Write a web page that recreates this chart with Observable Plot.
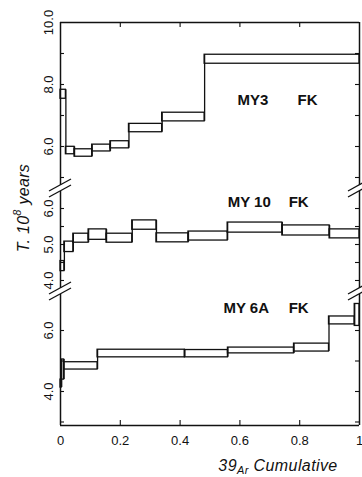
<!DOCTYPE html>
<html>
<head>
<meta charset="utf-8">
<script src="https://cdn.jsdelivr.net/npm/d3@7"></script>
<script src="https://cdn.jsdelivr.net/npm/@observablehq/plot@0.6"></script>
<style>
  html, body { margin: 0; padding: 0; background: #fff; }
  #chart { position: relative; width: 362px; height: 477px; overflow: hidden; background: #fff;
           font-family: "Liberation Sans", Arial, Helvetica, sans-serif; color: #111; }
  #chart svg { position: absolute; left: 0; }
  .ytitle { position: absolute; left: 21px; top: 208px; transform: translate(-50%, -50%) rotate(-90deg);
            white-space: nowrap; font-style: italic; font-size: 16px; line-height: 16px; letter-spacing: 0.3px; }
  .ytitle sup { font-size: 11px; position: relative; top: -1px; }
  .xtitle { position: absolute; left: 278px; top: 458px; transform: translateX(-50%);
            white-space: nowrap; font-style: italic; font-size: 16px; line-height: 16px; letter-spacing: 0.4px; }
  .xtitle sub { font-size: 11px; vertical-align: baseline; position: relative; top: 3px; }
</style>
</head>
<body>
<div id="chart">
  <div class="ytitle">T. 10<sup>8</sup> years</div>
  <div class="xtitle">39<sub>Ar</sub> Cumulative</div>
</div>
<script>
// ---------- data ----------
const xTicks = [0, 0.2, 0.4, 0.6, 0.8, 1];
const xTickLabels = ["0", "0.2", "0.4", "0.6", "0.8", "1"];
const xInnerTicks = [0.2, 0.4, 0.6, 0.8];

// MY3 FK  (cumulative 39Ar step edges, lower / upper age in 10^8 years)
const my3Edges = [0, 0.018, 0.047, 0.106, 0.167, 0.229, 0.340, 0.482, 1];
const my3Low   = [7.54, 5.75, 5.67, 5.84, 5.94, 6.46, 6.81, 8.67];
const my3High  = [7.83, 5.99, 5.91, 6.06, 6.17, 6.73, 7.09, 8.96];

// MY 10 FK
const my10Edges = [0, 0.013, 0.043, 0.094, 0.154, 0.240, 0.321, 0.428, 0.559, 0.742, 0.900, 1];
const my10Low   = [4.26, 4.79, 5.05, 5.13, 5.05, 5.41, 5.06, 5.11, 5.33, 5.25, 5.17];
const my10High  = [4.54, 5.08, 5.30, 5.42, 5.30, 5.67, 5.31, 5.36, 5.61, 5.53, 5.42];

// MY 6A FK
const my6aEdges = [0, 0.004, 0.012, 0.124, 0.416, 0.560, 0.781, 0.898, 0.984, 1];
const my6aLow   = [4.13, 4.39, 4.72, 5.12, 5.12, 5.25, 5.31, 6.20, 6.15];
const my6aHigh  = [4.39, 5.05, 4.96, 5.37, 5.36, 5.44, 5.57, 6.46, 6.87];

// panel names and y tick labels
const panelNames = ["MY3", "MY 10", "MY 6A"];
const panelSuffix = "FK";
const my3TickLabels = [10, 8, 6];
const my10TickLabels = [6, 5, 4];
const my6aTickLabels = [6, 4];
const my3Ticks = [9, 8, 7, 6, 5];
const my10Ticks = [6, 5.5, 5, 4.5, 4];
const my6aTicks = [6, 5, 4, 3];

// ---------- layout ----------
const W = 362, ML = 60, MR = 3, frameW = W - ML - MR;
const ink = "#111";
const gap = 3;
const font = "Liberation Sans, Arial, Helvetica, sans-serif";

const panels = [
  {name: panelNames[0], edges: my3Edges, low: my3Low, high: my3High,
   labelTicks: my3TickLabels, ticks: my3Ticks,
   top: 0, height: 188, marginTop: 22, marginBottom: 0, domain: [4.645, 10],
   nameX: 0.592, suffixX: 0.793, labelY: 7.48, first: true},
  {name: panelNames[1], edges: my10Edges, low: my10Low, high: my10High,
   labelTicks: my10TickLabels, ticks: my10Ticks,
   top: 188, height: 103, marginTop: 0, marginBottom: 0, domain: [3.694, 6.556],
   nameX: 0.559, suffixX: 0.763, labelY: 6.17},
  {name: panelNames[2], edges: my6aEdges, low: my6aLow, high: my6aHigh,
   labelTicks: my6aTickLabels, ticks: my6aTicks,
   top: 291, height: 186, marginTop: 0, marginBottom: 52, domain: [2.885, 7.279],
   nameX: 0.545, suffixX: 0.763, labelY: 6.72, last: true}
];

const chart = document.getElementById("chart");
const built = [];

for (const p of panels) {
  const steps = p.low.map((lo, i) => ({x1: p.edges[i], x2: p.edges[i + 1], lo, hi: p.high[i]}));
  const joins = steps.slice(1).map((s, i) => ({
    x: s.x1,
    y1: Math.min(s.lo, steps[i].lo),
    y2: Math.max(s.hi, steps[i].hi)
  }));
  const frameH = p.height - p.marginTop - p.marginBottom;
  const labels = [
    {x: p.nameX, y: p.labelY, text: p.name},
    {x: p.suffixX, y: p.labelY, text: panelSuffix}
  ];
  const marks = [
    Plot.ruleX([0, 1], {stroke: ink, strokeWidth: 1.5,
      insetTop: p.first ? 0 : gap, insetBottom: p.last ? 0 : gap}),
    Plot.tickY(p.ticks, {stroke: ink, strokeWidth: 1.1, insetRight: frameW - 4}),
    Plot.tickY(p.ticks, {stroke: ink, strokeWidth: 1.1, insetLeft: frameW - 4}),
    Plot.axisY(p.labelTicks, {tickSize: 0, tickPadding: 12, tickRotate: -90,
      textAnchor: "middle", lineAnchor: "middle", fontSize: 13, fill: ink,
      tickFormat: d => d.toFixed(1), label: null}),
    Plot.rect(steps, {x1: "x1", x2: "x2", y1: "lo", y2: "hi", fill: "none",
      stroke: ink, strokeWidth: 1.3}),
    Plot.ruleX(joins, {x: "x", y1: "y1", y2: "y2", stroke: ink, strokeWidth: 1.3}),
    Plot.text(labels, {x: "x", y: "y", text: "text", textAnchor: "start",
      fontWeight: "bold", fontSize: 15, fill: ink})
  ];
  if (p.first) {
    marks.push(Plot.ruleY([p.domain[1]], {stroke: ink, strokeWidth: 1.5}));
    marks.push(Plot.tickX(xInnerTicks, {stroke: ink, strokeWidth: 1.1, insetBottom: frameH - 5}));
  }
  if (p.last) {
    marks.push(Plot.ruleY([p.domain[0]], {stroke: ink, strokeWidth: 1.5}));
    marks.push(Plot.tickX(xInnerTicks, {stroke: ink, strokeWidth: 1.1, insetTop: frameH - 5}));
    marks.push(Plot.axisX(xTicks, {tickSize: 0, tickPadding: 10, fontSize: 13, fill: ink,
      tickFormat: d => xTickLabels[xTicks.indexOf(d)], label: null}));
  }
  const svg = Plot.plot({
    width: W, height: p.height,
    marginLeft: ML, marginRight: MR, marginTop: p.marginTop, marginBottom: p.marginBottom,
    x: {domain: [0, 1], axis: p.last ? undefined : null},
    y: {domain: p.domain, label: null},
    style: {fontFamily: font, background: "transparent", overflow: "visible"},
    marks
  });
  svg.style.top = p.top + "px";
  chart.appendChild(svg);
  built.push({p, svg});
}

// axis-break marks ("//") on both side axes between panels, positioned through the plots' scales
const xs = built[0].svg.scale("x");
const overlay = d3.select(chart).append("svg")
  .attr("width", W).attr("height", 477)
  .style("top", "0px").style("pointer-events", "none");
for (let k = 0; k < built.length - 1; k++) {
  const {p, svg} = built[k];
  const yb = p.top + svg.scale("y").apply(p.domain[0]);
  for (const xv of [0, 1]) {
    const xc = xs.apply(xv);
    for (const off of [-gap, gap]) {
      overlay.append("line")
        .attr("x1", xc - 11).attr("y1", yb + off + 6)
        .attr("x2", xc + 11).attr("y2", yb + off - 6)
        .attr("stroke", ink).attr("stroke-width", 1.3);
    }
  }
}
</script>
</body>
</html>
